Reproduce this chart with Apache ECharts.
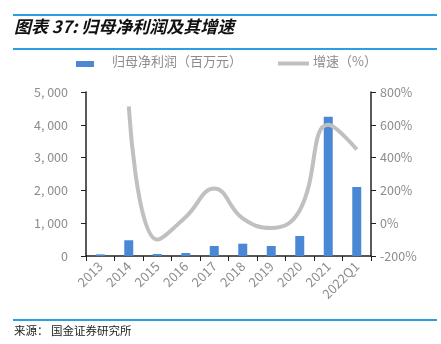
<!DOCTYPE html>
<html><head><meta charset="utf-8">
<script src="https://cdn.jsdelivr.net/npm/echarts@6/dist/echarts.min.js"></script>
<style>html,body{margin:0;padding:0;background:#fff}#c{width:441px;height:344px}</style>
</head><body><div id="c"></div>
<script>
const categories = ['2013','2014','2015','2016','2017','2018','2019','2020','2021','2022Q1'];
const profit = [50, 480, 60, 90, 305, 375, 305, 610, 4247, 2104];
const growth = [null, 713, -100, 38, 211, 29, -29, 79, 600, 449];
const leftTicks = [0, 1000, 2000, 3000, 4000, 5000];
const rightTicks = [-200, 0, 200, 400, 600, 800];
const seriesNames = ['归母净利润（百万元）', '增速（%）'];

const chart = echarts.init(document.getElementById('c'));
const font = '"Noto Sans CJK SC", "Noto Sans", sans-serif';
chart.setOption({
  animation: false,
  textStyle: { fontFamily: font },
  graphic: [
    { type: 'line', shape: { x1: 13, y1: 15, x2: 437, y2: 15 }, style: { stroke: '#2c9fe0', lineWidth: 2 } },
    { type: 'text', left: 14, top: 18, style: { text: '图表 37: 归母净利润及其增速', fontSize: 17, fontStyle: 'italic', fontWeight: 'bold', fill: '#111', fontFamily: font } },
    { type: 'line', shape: { x1: 13, y1: 49, x2: 437, y2: 49 }, style: { stroke: '#2c9fe0', lineWidth: 2 } },
    { type: 'line', shape: { x1: 13, y1: 320, x2: 437, y2: 320 }, style: { stroke: '#2c9fe0', lineWidth: 2 } },
    { type: 'text', left: 14, top: 325, style: { text: '来源： 国金证券研究所', fontSize: 11.5, fill: '#222', fontFamily: font } },
    // legend
    { type: 'rect', shape: { x: 76, y: 61, width: 18, height: 6 }, style: { fill: '#4a88d6' } },
    { type: 'text', left: 112, top: 55, style: { text: seriesNames[0], fontSize: 13, fill: '#8c8c8c', fontFamily: font } },
    { type: 'line', shape: { x1: 278, y1: 63.5, x2: 309, y2: 63.5 }, style: { stroke: '#c0c0c0', lineWidth: 4 } },
    { type: 'text', left: 313, top: 55, style: { text: seriesNames[1], fontSize: 13, fill: '#8c8c8c', fontFamily: font } }
  ],
  grid: { left: 86, right: 70, top: 92, bottom: 88 },
  xAxis: {
    type: 'category', data: categories,
    axisLine: { lineStyle: { color: '#222', width: 1.5 } },
    axisTick: { show: true, length: 5, lineStyle: { color: '#222' } },
    axisLabel: { rotate: 45, color: '#8c8c8c', fontSize: 13, margin: 8, interval: 0 }
  },
  yAxis: [
    {
      type: 'value', min: 0, max: 5000, interval: 1000,
      axisLine: { show: true, lineStyle: { color: '#222', width: 1.5 } },
      axisTick: { show: true, length: 5, lineStyle: { color: '#222' } },
      splitLine: { show: false },
      axisLabel: { color: '#8c8c8c', fontSize: 12.5, margin: 18,
        formatter: v => v === 0 ? '0' : String(v).replace(/(\d)(?=(\d{3})+$)/g, '$1, ') }
    },
    {
      type: 'value', min: -200, max: 800, interval: 200,
      axisLine: { show: true, lineStyle: { color: '#222', width: 1.5 } },
      axisTick: { show: true, length: 5, lineStyle: { color: '#222' } },
      splitLine: { show: false },
      axisLabel: { color: '#8c8c8c', fontSize: 12.5, margin: 9, formatter: v => v + '%' }
    }
  ],
  series: [
    { name: seriesNames[0], type: 'bar', data: profit, barWidth: 9,
      itemStyle: { color: '#4a88d6' } },
    { name: seriesNames[1], type: 'line', yAxisIndex: 1, data: growth, smooth: 0.45,
      showSymbol: false, symbol: 'none', connectNulls: false,
      lineStyle: { color: '#c0c0c0', width: 4 }, itemStyle: { color: '#c0c0c0' } }
  ]
});
</script></body></html>
